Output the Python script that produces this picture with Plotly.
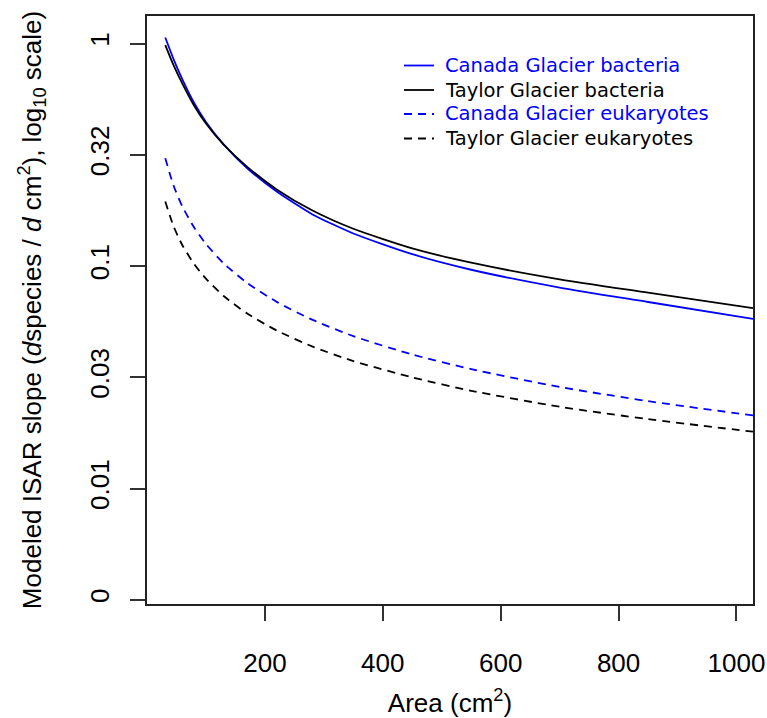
import plotly.graph_objects as go

# Area (cm^2) grid at which values were read
area = [31, 45, 60, 80, 100, 130, 170, 220, 280, 350, 450, 550, 700, 850, 1028]

canada_bacteria = [1.064, 0.851, 0.690, 0.540, 0.444, 0.352, 0.275, 0.216, 0.171,
                   0.140, 0.113, 0.0962, 0.080, 0.0689, 0.0578]
taylor_bacteria = [0.984, 0.80, 0.66, 0.525, 0.437, 0.351, 0.279, 0.221, 0.178,
                   0.147, 0.120, 0.1035, 0.0871, 0.0759, 0.0646]
canada_eukaryotes = [0.305, 0.230, 0.185, 0.149, 0.1256, 0.1028, 0.0839, 0.069, 0.0574,
                     0.0484, 0.040, 0.0344, 0.0286, 0.0247, 0.0213]
taylor_eukaryotes = [0.195, 0.151, 0.124, 0.102, 0.0877, 0.0733, 0.0611, 0.0513, 0.0435,
                     0.0374, 0.0316, 0.0275, 0.0233, 0.0205, 0.0180]

series_names = ["Canada Glacier bacteria", "Taylor Glacier bacteria",
                "Canada Glacier eukaryotes", "Taylor Glacier eukaryotes"]

x_ticks = [200, 400, 600, 800, 1000]
y_tickvals = [1, 10 ** -0.5, 0.1, 10 ** -1.5, 0.01, 10 ** -2.5]
y_ticktext = ["1", "0.32", "0.1", "0.03", "0.01", "0"]

BLUE = "#0000FF"
BLACK = "#000000"
DASH = "8px,6px"

W, H = 767, 718
L, R, T, B = 147, 14, 16, 114
PW, PH = W - L - R, H - T - B


def px_x(px):
    return (px - L) / PW


def px_y(py):
    return (H - B - py) / PH


fig = go.Figure()
series = [
    (series_names[0], canada_bacteria, BLUE, "solid"),
    (series_names[1], taylor_bacteria, BLACK, "solid"),
    (series_names[2], canada_eukaryotes, BLUE, DASH),
    (series_names[3], taylor_eukaryotes, BLACK, DASH),
]
for name, vals, col, dash in series:
    fig.add_trace(go.Scatter(
        x=area, y=vals, mode="lines", name=name, showlegend=False,
        line=dict(color=col, width=1.8, dash=dash, shape="spline", smoothing=0.6),
    ))

# manual legend (R-style, no box)
row_y = [65.5, 90, 114, 138.5]
for (name, vals, col, dash), ry in zip(series, row_y):
    fig.add_shape(type="line", xref="paper", yref="paper",
                  x0=px_x(404), x1=px_x(434), y0=px_y(ry), y1=px_y(ry),
                  line=dict(color=col, width=1.8, dash=dash))
    fig.add_annotation(xref="paper", yref="paper", x=px_x(443), y=px_y(ry),
                       xanchor="left", yanchor="middle", showarrow=False,
                       text=name, font=dict(family="DejaVu Sans", size=19.5, color=col))

tick_font = dict(family="Liberation Sans, Arial, sans-serif", size=26, color="#000")

fig.update_layout(
    width=W, height=H,
    margin=dict(l=L, r=R, t=T, b=B, autoexpand=False),
    paper_bgcolor="white", plot_bgcolor="white",
    showlegend=False,
    xaxis=dict(
        range=[0, 1028], tickvals=x_ticks, ticktext=[str(v) for v in x_ticks],
        showgrid=False, zeroline=False, automargin=False,
        showline=True, mirror=True, linecolor="#222", linewidth=1.5,
        ticks="outside", ticklen=15, tickwidth=1.5, tickcolor="#333",
        tickfont=tick_font, ticklabelstandoff=20,
        title=dict(text="Area (cm<sup>2</sup>)", font=tick_font, standoff=18),
    ),
    yaxis=dict(
        type="log", range=[-2.519, 0.1236],
        tickvals=y_tickvals, ticktext=y_ticktext, tickangle=-90,
        showgrid=False, zeroline=False, automargin=False,
        showline=True, mirror=True, linecolor="#222", linewidth=1.5,
        ticks="outside", ticklen=15, tickwidth=1.5, tickcolor="#333",
        tickfont=tick_font, ticklabelstandoff=11,
        title=dict(text="Modeled ISAR slope (<i>d</i>species / <i>d</i> cm<sup>2</sup>), log<sub>10</sub> scale)",
                   font=tick_font, standoff=36),
    ),
)

fig.write_html("out.html")
